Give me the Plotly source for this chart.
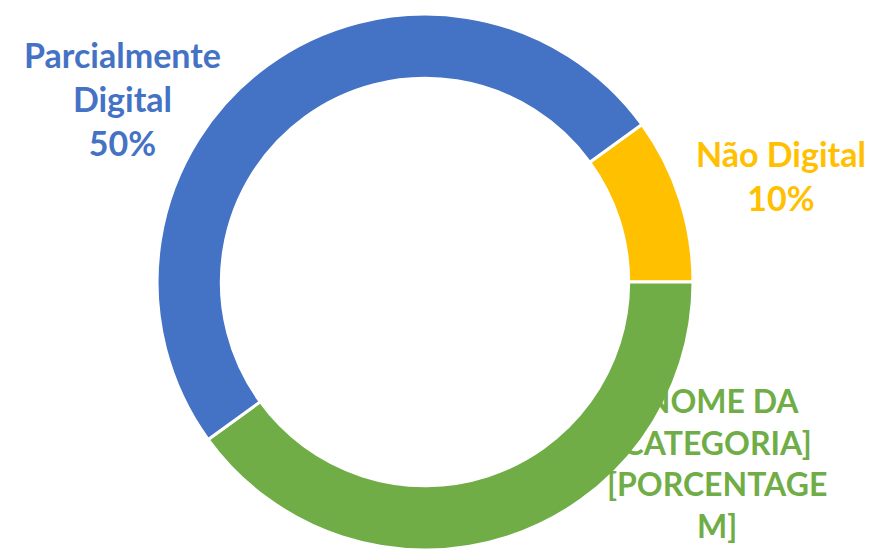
import plotly.graph_objects as go

labels = ["Não Digital", "[NOME DA CATEGORIA]", "Parcialmente Digital"]
values = [10, 40, 50]
colors = ["#FFC000", "#70AD47", "#4472C4"]
label_texts = ["Não Digital<br>10%", "[NOME DA<br>CATEGORIA]<br>[PORCENTAGE<br>M]", "Parcialmente<br>Digital<br>50%"]

W, H = 874, 552
fig = go.Figure(go.Pie(
    labels=labels, values=values, sort=False, direction="clockwise", rotation=54,
    hole=0.76, marker=dict(colors=colors, line=dict(color="white", width=3)),
    textinfo="none", hoverinfo="label+percent", showlegend=False,
    domain=dict(x=[157 / W, 693 / W], y=[2 / H, 538 / H]),
))

pos = [(781, 176), (717, 463), (122, 98)]
sizes = [34, 32, 34]
for txt, col, (px, py), fs in zip(label_texts, colors, pos, sizes):
    fig.add_annotation(x=px / W, y=1 - py / H, xref="paper", yref="paper", text="<b>" + txt + "</b>",
                       showarrow=False, font=dict(family="Lato", size=fs, color=col),
                       xanchor="center", yanchor="middle", align="center")

fig.update_layout(width=W, height=H, margin=dict(l=0, r=0, t=0, b=0),
                  paper_bgcolor="white", plot_bgcolor="white")
fig.write_html("out.html")
